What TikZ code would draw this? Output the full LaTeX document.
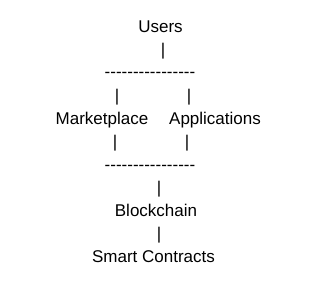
\documentclass[tikz,border=0pt]{standalone}
\usepackage{fontspec}
\setmainfont{Liberation Sans}
\usepackage{tikz}
\usetikzlibrary{positioning}
\tikzset{
  line/.style={font=\fontsize{12.75}{15}\selectfont, anchor=base, inner sep=0pt}
}
% one hyphen, kept apart from the next one
\newcommand{\hy}{-\kern0pt}
\newcommand{\hyrow}{\hy\hy\hy\hy\hy\hy\hy\hy\hy\hy\hy\hy\hy\hy\hy\hy}
\begin{document}
\begin{tikzpicture}[x=0.75pt, y=-0.75pt]
  \useasboundingbox (0,0) rectangle (326,286);
  % Top
  \node[line] (users) at (160.5,32) {Users};
  \node[line] (barTop) at (163,55) {|};
  \node[line] (ruleTop) at (150,77) {\hyrow};
  % Middle
  \node[line] (barL) at (117,101) {|};
  \node[line] (barR) at (189,101) {|};
  \node[line] (market) at (102,124) {Marketplace};
  \node[line] (apps) at (215,124) {Applications};
  \node[line] (barL2) at (115,147) {|};
  \node[line] (barR2) at (187,147) {|};
  \node[line] (ruleBot) at (150,170) {\hyrow};
  % Bottom
  \node[line] (barMid) at (159,193) {|};
  \node[line] (chain) at (156,216) {Blockchain};
  \node[line] (barLow) at (159,239) {|};
  \node[line] (contracts) at (153.5,262) {Smart Contracts};
\end{tikzpicture}
\end{document}
